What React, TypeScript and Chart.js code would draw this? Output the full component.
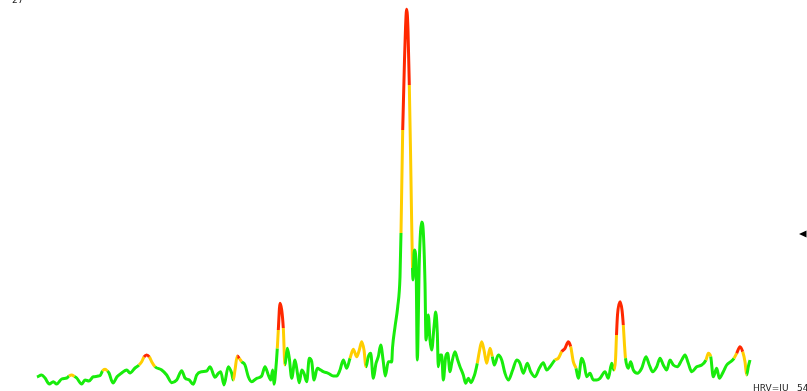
import React, { useEffect, useRef } from "react";
import { Chart, registerables } from "chart.js";

Chart.register(...registerables);

// Spectrum samples: frequency bin and amplitude
const freq: number[] = [
  37, 41.7, 45, 49.3, 53.3, 56.7, 61.7, 66.7, 69, 71.7, 74.5, 76.7, 81.7, 85, 89, 93.3, 100, 102.5, 105, 107.5,
  109, 113, 117, 121.7, 126.7, 130, 135, 139, 141.7, 144, 146.7, 149.3, 151.7, 155, 161.7, 166.7, 171.7, 176.7,
  181.7, 185, 189.3, 193.3, 196.7, 201.7, 206.7, 210, 215, 218.3, 220.7, 224, 228.3, 231.7, 233.3, 235, 237.3,
  239.3, 241.7, 245, 248.3, 251.7, 256.7, 261.7, 265, 268.3, 270.7, 272.7, 274, 276, 277.3, 278.3, 280, 281.7,
  283.3, 285, 287.3, 289.3, 291.7, 295, 297.7, 299.3, 301.7, 304, 306.7, 309.3, 311.7, 314, 317.3, 320.7, 323.3,
  328.3, 333.3, 336.7, 340, 343.3, 346.7, 350, 353.3, 356.7, 359.3, 361.7, 364, 366, 368.3, 370.7, 373.3, 376,
  378.3, 380.7, 383.3, 385.3, 388.3, 391.7, 392.5, 395, 397.7, 400, 401, 402.7, 404.5, 406.7, 408, 409.3, 410.5,
  411.3, 412.5, 413, 414.3, 416, 417.3, 419.3, 421.7, 423.3, 425, 426, 428.3, 430, 431.7, 434, 435.7, 437.3,
  438.3, 440, 441.7, 443.3, 445.7, 447.7, 450, 451.7, 455, 457.7, 460, 463.3, 465.7, 468.3, 471, 473.3, 475,
  477.3, 479.3, 481.7, 484, 486.7, 490, 492.3, 494.3, 498.3, 501.7, 505, 508.3, 512.7, 516.7, 520, 523.3, 527.3,
  530.7, 535, 539.3, 543.3, 546.7, 550, 555, 558.3, 561.7, 565, 568.3, 570.7, 573.3, 576, 578.3, 581.7, 584,
  586.7, 590, 593.3, 596.7, 600, 605, 608.3, 611.7, 614, 615.5, 616.5, 617.5, 620, 622, 623.3, 624.5, 625.5,
  628.3, 630.7, 633.3, 637.3, 641.7, 646, 649.3, 652.7, 656.7, 660, 663.3, 666.7, 670, 673.3, 677.3, 681.7, 685,
  688.3, 691.7, 696.7, 701.7, 706, 708.3, 710.7, 713.3, 716.7, 719.3, 723.3, 726.7, 730.7, 734, 736.7, 740,
  742.7, 745, 746.7, 748.3, 750,
];

const amplitude: number[] = [
  14, 16, 13, 7, 9.3, 7, 12, 13, 15, 16, 14.5, 13, 7, 11, 10, 14.3, 15.3, 20, 21.7, 20,
  18, 8, 14.3, 18, 21, 18, 23, 26, 29.3, 34, 36, 34, 29.3, 24.3, 21, 16, 8.3, 11,
  20.3, 13, 11, 6.7, 16, 19.3, 20, 24.3, 13.7, 17.7, 19.3, 6, 24.3, 17.7, 11, 21, 35,
  32.7, 29.3, 26, 14.3, 9.3, 12.7, 15, 24.3, 16, 11, 21, 6.7, 24.3, 42.7, 61, 87.7, 81,
  63, 26, 42.7, 32.7, 12.7, 31, 16, 8.3, 21, 17.7, 9.3, 32.7, 29.3, 11, 22.7, 21, 19.3,
  17.7, 15, 15, 21, 31, 22.7, 32.7, 41.7, 34.3, 41, 49.3, 41, 24.3, 34.3, 37.7, 12.7, 27.7,
  34.3, 46, 29.3, 15, 29.3, 29, 43, 64, 84, 114, 158, 261, 331, 381.7, 361, 306, 241,
  191, 123, 111, 141, 131, 31, 129, 169, 159, 108, 51, 76, 51, 41, 64, 79, 58,
  24.3, 36, 36, 11, 34.3, 37.7, 19.3, 27.7, 39.3, 31, 24.3, 16, 7.7, 12.7, 8.3, 12.7, 17.7,
  27.7, 39.3, 49.3, 41, 27.7, 42.7, 34.3, 26, 36, 31, 17.7, 11, 21, 31, 27.7, 17.7, 27.7,
  19.3, 14.3, 22.7, 28.3, 21, 24.3, 31, 32.7, 39.3, 42.7, 49.3, 44.3, 29.3, 22.7, 12.7, 32.7, 27.7,
  14.3, 17.7, 11, 11, 12.7, 19.3, 12.7, 27.7, 21, 31, 56, 76, 89.3, 81, 66, 46, 32.7,
  22.7, 29.3, 21, 17.7, 22.7, 34.3, 26, 19.3, 24.3, 32.7, 26, 21, 31, 26, 24.3, 31, 36,
  27.7, 19.3, 24.3, 26, 31, 37.7, 34.3, 14.3, 22.7, 12.7, 19.3, 26, 29.3, 32.7, 37.7, 44.3,
  39.3, 29.3, 16, 24.3, 31,
];

// Frequency bands flagged as warning (yellow) and alert (red)
const warnBands: [number, number][] = [
  [68.5, 75], [102, 108], [139.5, 154], [234, 242], [277, 284.5], [349.5, 365.5],
  [400.8, 412.6], [478, 492.5], [556, 575.5], [614.5, 625.2], [706.5, 711.5], [735, 746.2],
];
const alertBands: [number, number][] = [
  [144.5, 149], [237.5, 240], [278.5, 283], [402.5, 409.5], [562.5, 570], [616.8, 623], [738, 742],
];

const topLabel = "27";
const footLabel = "HRV=IU";
const footValue = "54";

const GREEN = "rgb(24,236,12)";
const YELLOW = "rgb(255,206,0)";
const RED = "rgb(255,40,0)";

const inBands = (x: number, bands: [number, number][]) => bands.some(([a, b]) => x >= a && x <= b);

export default function App() {
  const ref = useRef<HTMLCanvasElement | null>(null);

  useEffect(() => {
    if (!ref.current) return;
    const overlay = {
      id: "overlay",
      afterDraw(chart: any) {
        const ctx = chart.ctx;
        ctx.save();
        ctx.fillStyle = "#222";
        ctx.font = "9px 'DejaVu Sans', sans-serif";
        ctx.textBaseline = "alphabetic";
        ctx.textAlign = "left";
        ctx.fillText(topLabel, 12, 3);
        ctx.fillText(footLabel, 753, 391);
        ctx.fillText(footValue, 797, 391);
        ctx.fillStyle = "#000";
        ctx.beginPath();
        ctx.moveTo(799, 234);
        ctx.lineTo(806.5, 230.5);
        ctx.lineTo(806.5, 237.5);
        ctx.closePath();
        ctx.fill();
        ctx.restore();
      },
    };
    const chart = new Chart(ref.current, {
      type: "line",
      data: {
        datasets: [
          {
            data: freq.map((f, i) => ({ x: f, y: amplitude[i] })),
            borderColor: GREEN,
            borderWidth: 3,
            pointRadius: 0,
            cubicInterpolationMode: "monotone",
            clip: false as any,
            segment: {
              borderColor: (c: any) => {
                const mid = (c.p0.parsed.x + c.p1.parsed.x) / 2;
                if (inBands(mid, alertBands)) return RED;
                if (inBands(mid, warnBands)) return YELLOW;
                return GREEN;
              },
            },
          },
        ],
      },
      options: {
        animation: false,
        responsive: false,
        devicePixelRatio: 1,
        layout: { padding: 0 },
        plugins: { legend: { display: false }, tooltip: { enabled: false } },
        scales: {
          x: { type: "linear", min: 0, max: 807, display: false },
          y: { type: "linear", min: 0, max: 391, display: false },
        },
      },
      plugins: [overlay],
    });
    return () => chart.destroy();
  }, []);

  return (
    <canvas
      ref={ref}
      width={807}
      height={391}
      style={{ position: "absolute", left: 0, top: 0, width: 807, height: 391 }}
    />
  );
}
